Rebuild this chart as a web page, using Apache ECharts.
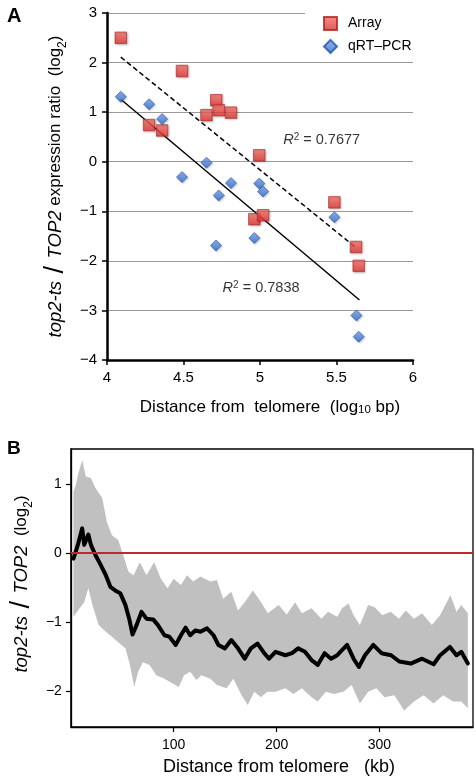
<!DOCTYPE html>
<html>
<head>
<meta charset="utf-8">
<script src="https://cdn.jsdelivr.net/npm/echarts@6/dist/echarts.min.js"></script>
<style>
html,body{margin:0;padding:0;background:#fff;}
#chart{width:476px;height:779px;}
</style>
</head>
<body>
<div id="chart"></div>
<script>
// ---------- Panel A data ----------
const arrayX = [4.09, 4.49, 4.275, 4.36, 4.65, 4.714, 4.73, 4.81, 4.995, 5.486, 4.963, 5.02, 5.627, 5.645];
const arrayY = [2.50, 1.83, 0.74, 0.63, 0.94, 1.24, 1.04, 0.99, 0.13, -0.82, -1.16, -1.08, -1.72, -2.10];
const pcrX = [4.09, 4.275, 4.36, 4.49, 4.65, 4.73, 4.81, 4.712, 4.995, 5.02, 5.486, 4.963, 5.63, 5.645];
const pcrY = [1.31, 1.16, 0.86, -0.31, -0.02, -0.68, -0.43, -1.69, -0.44, -0.60, -1.12, -1.54, -3.10, -3.53];
const arrayFitX = [4.09, 5.63];
const arrayFitY = [2.11, -1.74];
const pcrFitX = [4.09, 5.65];
const pcrFitY = [1.26, -2.79];
const r2Labels = ['0.7677', '0.7838'];
const r2X = [5.403, 5.007];
const r2Y = [0.43, -2.556];

// ---------- Panel B data ----------
const meanKb = [2.5,6.8,11,13,17,19.5,24,29,34,38.5,43,48,53,56.7,60,64,68.7,73.5,80,84.5,91,95.7,102,107,111.6,116,121,126,132.4,138.7,143.4,149.8,156,162.5,169,175,181.5,188,192.7,199,208.5,215,221,227.6,234,240,246.7,253,259,262,268.6,274.9,280,286,294,302,311.4,319.3,330.5,341.5,352.7,359,368.6,374.9,379.6,386];
const meanVal = [-0.08,0.12,0.36,0.12,0.27,0.12,-0.03,-0.17,-0.32,-0.49,-0.54,-0.58,-0.75,-0.95,-1.18,-1.04,-0.85,-0.95,-0.96,-1.04,-1.19,-1.21,-1.33,-1.19,-1.08,-1.19,-1.12,-1.14,-1.09,-1.19,-1.33,-1.38,-1.26,-1.38,-1.53,-1.38,-1.31,-1.45,-1.53,-1.43,-1.48,-1.45,-1.38,-1.43,-1.55,-1.62,-1.45,-1.53,-1.48,-1.43,-1.33,-1.53,-1.65,-1.48,-1.33,-1.45,-1.48,-1.57,-1.60,-1.53,-1.61,-1.48,-1.36,-1.48,-1.43,-1.60];
const upperKb = [2.5,5,6.8,11,14.6,19.5,24,30.5,35,40,46,51,56,61,67,73.5,81,87.5,94,100,107,113,119,126,135.6,142,148,156,162.5,169,177,185,191.4,202,210,218,224.6,234,243.6,250,259,263.7,270,274.9,281,289,295,303,311,319,325.7,333.6,341.5,351,359,369,375,379.6,386];
const upperVal = [0.89,1.0,1.13,1.35,1.11,1.09,0.94,0.80,0.45,0.26,0.19,-0.03,-0.27,-0.32,-0.13,-0.32,-0.13,-0.37,-0.51,-0.37,-0.46,-0.32,-0.41,-0.34,-0.41,-0.39,-0.66,-0.56,-0.83,-0.71,-0.54,-0.71,-0.87,-0.75,-0.89,-0.71,-0.87,-0.80,-0.95,-0.85,-0.92,-0.80,-0.73,-0.90,-1.04,-0.75,-0.78,-0.90,-0.85,-0.95,-0.83,-0.95,-0.87,-1.04,-0.90,-0.61,-0.85,-0.75,-0.87];
const lowerKb = [2.5,8.5,13,17,21,27,34,40,46,53,57.5,61.6,65.4,70,76.5,83,91,97,105,110,116,122,127,135.6,142,151.4,158,166,172,178.3,184.7,191,199,208.5,216.5,224.6,234,240,248,256,265,273,281,289,297,305,314.6,324,333.6,343,352.7,362,371.7,379.6,386];
const lowerVal = [-0.92,-0.80,-0.71,-0.51,-0.75,-1.04,-1.14,-1.21,-1.29,-1.38,-1.62,-1.94,-1.72,-1.58,-1.62,-1.77,-1.82,-1.87,-1.94,-1.77,-1.72,-1.84,-1.77,-1.82,-1.91,-1.96,-1.82,-2.06,-2.20,-2.01,-2.09,-2.01,-2.01,-1.96,-2.04,-1.96,-2.09,-2.15,-2.01,-2.04,-2.01,-1.91,-2.18,-2.01,-1.96,-2.09,-2.06,-2.28,-2.15,-2.06,-2.18,-2.06,-2.15,-2.15,-2.25];
const zeroLine = 0;
const xTicksB = [100, 200, 300];
const yTicksB = [-2, -1, 0, 1];

// ---------- build ----------
const FONT = '"Liberation Sans", Arial, Helvetica, sans-serif';
const zip = (a, b) => a.map((v, i) => [v, b[i]]);
const minusFmt = v => (v < 0 ? '\u2212' + Math.abs(v) : String(v));

const bandPts = zip(upperKb, upperVal).concat(zip(lowerKb, lowerVal).reverse());

const chart = echarts.init(document.getElementById('chart'), null, {renderer: 'canvas'});

const richY = {
  i: {fontSize: 18.5, fontStyle: 'italic', fontFamily: FONT, color: '#000', verticalAlign: 'middle'},
  s: {fontSize: 27, fontFamily: FONT, color: '#000', verticalAlign: 'middle', fontWeight: 'normal'},
  n: {fontSize: 17, fontFamily: FONT, color: '#000', verticalAlign: 'middle'},
  sub: {fontSize: 12, fontFamily: FONT, color: '#000', verticalAlign: 'bottom'}
};
const richXA = {
  n: {fontSize: 17, fontFamily: FONT, color: '#000', verticalAlign: 'middle'},
  sub: {fontSize: 11.5, fontFamily: FONT, color: '#000', verticalAlign: 'bottom'}
};
const richXB = {
  n: {fontSize: 18, fontFamily: FONT, color: '#000', verticalAlign: 'middle'}
};

const option = {
  backgroundColor: '#fff',
  animation: false,
  textStyle: {fontFamily: FONT},
  graphic: [
    {type: 'text', left: 7, top: 6, style: {text: 'A', font: 'bold 20px ' + FONT, fill: '#000'}},
    {type: 'text', left: 7, top: 439, style: {text: 'B', font: 'bold 19px ' + FONT, fill: '#000'}}
  ],
  legend: {
    data: ['Array', 'qRT\u2013PCR'],
    orient: 'vertical',
    left: 305,
    top: 7,
    padding: [9, 12, 5, 18],
    itemGap: 8,
    itemWidth: 13,
    itemHeight: 13,
    backgroundColor: '#fff',
    textStyle: {fontSize: 14, fontFamily: FONT, color: '#000', padding: [0, 0, 0, 6]}
  },
  grid: [
    {left: 107, top: 13, width: 306, height: 347},
    {left: 62, top: 449, width: 411, height: 278, show: true, borderColor: '#000', borderWidth: 1.3, backgroundColor: 'transparent'}
  ],
  xAxis: [
    {
      gridIndex: 0, type: 'value', min: 4, max: 6, interval: 0.5,
      axisLine: {show: true, onZero: false, lineStyle: {color: '#000', width: 2.5}},
      axisTick: {show: true, length: 5, lineStyle: {color: '#000', width: 1.5}},
      axisLabel: {fontSize: 15, color: '#000', margin: 10, fontFamily: FONT, formatter: minusFmt},
      splitLine: {show: false},
      name: '{n|Distance from  telomere  (log}{sub|10}{n| bp)}',
      nameLocation: 'middle', nameGap: 39,
      nameTextStyle: {rich: richXA, padding: [0, 0, 0, 20]}
    },
    {
      gridIndex: 1, type: 'value', min: 0, max: 391,
      axisLine: {show: true, onZero: false, lineStyle: {color: '#000', width: 1.3}},
      axisTick: {show: true, length: 5, customValues: xTicksB, lineStyle: {color: '#000', width: 1.2}},
      axisLabel: {fontSize: 14, color: '#000', margin: 11, fontFamily: FONT, customValues: xTicksB},
      splitLine: {show: false},
      name: '{n|Distance from telomere   (kb)}',
      nameLocation: 'middle', nameGap: 31,
      nameTextStyle: {rich: richXB, padding: [0, 0, 0, 14]}
    }
  ],
  yAxis: [
    {
      gridIndex: 0, type: 'value', min: -4, max: 3, interval: 1,
      axisLine: {show: true, onZero: false, lineStyle: {color: '#000', width: 2.5}},
      axisTick: {show: true, length: 5, lineStyle: {color: '#000', width: 1.5}},
      axisLabel: {fontSize: 15, color: '#000', margin: 10, fontFamily: FONT, formatter: minusFmt},
      splitLine: {show: true, lineStyle: {color: '#9a9a9a', width: 1}},
      name: '{i|top2-ts}{s| / }{i|TOP2}{n| expression ratio  (log}{sub|2}{n|)}',
      nameLocation: 'middle', nameGap: 37, nameRotate: 90,
      nameTextStyle: {rich: richY}
    },
    {
      gridIndex: 1, type: 'value', min: -2.52, max: 1.51,
      axisLine: {show: true, onZero: false, lineStyle: {color: '#000', width: 1.3}},
      axisTick: {show: true, length: 5, customValues: yTicksB, lineStyle: {color: '#000', width: 1.2}},
      axisLabel: {fontSize: 14, color: '#000', margin: 9, fontFamily: FONT, customValues: yTicksB, formatter: minusFmt},
      splitLine: {show: false},
      name: '{i|top2-ts}{s| / }{i|TOP2}{n|  (log}{sub|2}{n|)}',
      nameLocation: 'middle', nameGap: 30, nameRotate: 90,
      nameTextStyle: {rich: richY, padding: [0, 0, 0, 8]}
    }
  ],
  series: [
    {
      type: 'line', xAxisIndex: 0, yAxisIndex: 0, data: zip(arrayFitX, arrayFitY),
      symbol: 'none', silent: true, z: 2,
      lineStyle: {color: '#000', width: 1.5, type: [5, 3]}
    },
    {
      type: 'line', xAxisIndex: 0, yAxisIndex: 0, data: zip(pcrFitX, pcrFitY),
      symbol: 'none', silent: true, z: 2,
      lineStyle: {color: '#000', width: 1.5}
    },
    {
      name: 'Array', type: 'scatter', xAxisIndex: 0, yAxisIndex: 0, data: zip(arrayX, arrayY),
      symbol: 'rect', symbolSize: 11.5, z: 3,
      itemStyle: {
        color: new echarts.graphic.LinearGradient(0, 0, 0, 1, [{offset: 0, color: '#f6706a'}, {offset: 1, color: '#dc2e2a'}]),
        borderColor: '#a82420', borderWidth: 0.8,
        shadowColor: 'rgba(0,0,0,0.25)', shadowBlur: 2, shadowOffsetX: 1, shadowOffsetY: 1
      }
    },
    {
      name: 'qRT\u2013PCR', type: 'scatter', xAxisIndex: 0, yAxisIndex: 0, data: zip(pcrX, pcrY),
      symbol: 'diamond', symbolSize: [11, 11], z: 4,
      itemStyle: {
        color: new echarts.graphic.LinearGradient(0, 0, 0, 1, [{offset: 0, color: '#7aa9ee'}, {offset: 1, color: '#2c66cc'}]),
        borderColor: '#2452a8', borderWidth: 0.8,
        shadowColor: 'rgba(0,0,0,0.25)', shadowBlur: 2, shadowOffsetX: 1, shadowOffsetY: 1
      }
    },
    {
      type: 'scatter', xAxisIndex: 0, yAxisIndex: 0, silent: true, symbolSize: 0,
      data: r2X.map((x, i) => ({value: [x, r2Y[i]], r2: r2Labels[i]})),
      label: {
        show: true, position: 'inside', color: '#000',
        formatter: p => '{it|R}{sup|2}{n| = ' + p.data.r2 + '}',
        rich: {
          it: {fontSize: 14.5, fontStyle: 'italic', fontFamily: FONT, color: '#000'},
          sup: {fontSize: 10, fontFamily: FONT, color: '#000', verticalAlign: 'top', padding: [0, 0, 6, 0]},
          n: {fontSize: 14.5, fontFamily: FONT, color: '#000'}
        }
      }
    },
    {
      type: 'custom', xAxisIndex: 1, yAxisIndex: 1, silent: true, z: 1,
      data: bandPts,
      renderItem: function (params, api) {
        if (params.dataIndex !== 0) return null;
        const pts = bandPts.map(p => api.coord(p));
        return {type: 'polygon', shape: {points: pts}, style: {fill: '#c0c0c0', stroke: 'none'}};
      }
    },
    {
      type: 'line', xAxisIndex: 1, yAxisIndex: 1, data: [], silent: true, z: 2,
      markLine: {
        silent: true, symbol: ['none', 'none'], label: {show: false},
        lineStyle: {color: '#c0282d', width: 2, type: 'solid'},
        data: [{yAxis: zeroLine}]
      }
    },
    {
      type: 'line', xAxisIndex: 1, yAxisIndex: 1, data: zip(meanKb, meanVal),
      symbol: 'none', silent: true, z: 3,
      lineStyle: {color: '#000', width: 4, join: 'round', cap: 'round'}
    }
  ]
};
chart.setOption(option);
</script>
</body>
</html>
